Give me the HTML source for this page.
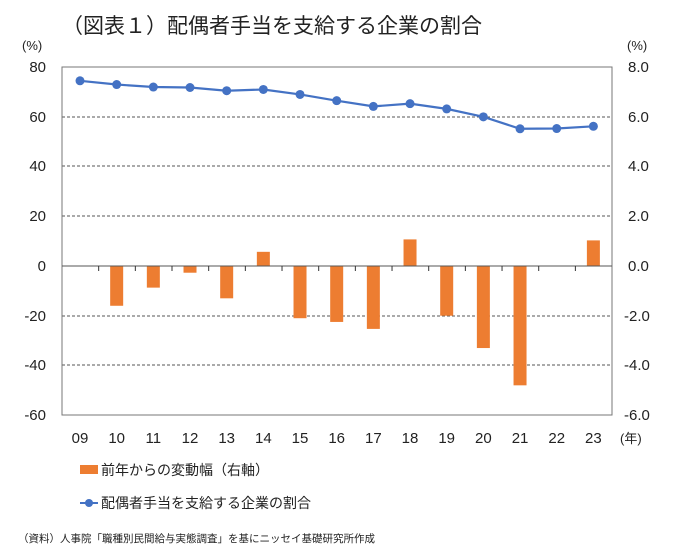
<!DOCTYPE html>
<html><head><meta charset="utf-8"><style>
body{margin:0;background:#fff;}
svg{display:block;font-family:"Liberation Sans","Noto Sans CJK JP",sans-serif;}
</style></head><body>
<svg width="684" height="558" viewBox="0 0 684 558">
<text x="62" y="33" font-size="21" fill="#222">（図表１）配偶者手当を支給する企業の割合</text>
<text x="22" y="50" font-size="13" fill="#222">(%)</text>
<text x="627" y="50" font-size="13" fill="#222">(%)</text>
<g stroke="#555" stroke-width="1" stroke-dasharray="3,2">
<line x1="62" x2="612" y1="117" y2="117"/>
<line x1="62" x2="612" y1="166" y2="166"/><line x1="62" x2="612" y1="216" y2="216"/>
<line x1="62" x2="612" y1="316" y2="316"/><line x1="62" x2="612" y1="365" y2="365"/>
</g>
<rect x="62" y="67" width="550" height="348" fill="none" stroke="#777"/>
<g font-size="15" fill="#222" text-anchor="end">
<text x="46" y="72">80</text><text x="46" y="122">60</text><text x="46" y="171">40</text><text x="46" y="221">20</text><text x="46" y="271">0</text><text x="46" y="321">-20</text><text x="46" y="370">-40</text><text x="46" y="420">-60</text>
</g>
<g font-size="15" fill="#222" text-anchor="start">
<text x="628" y="72">8.0</text><text x="628" y="122">6.0</text><text x="628" y="171">4.0</text><text x="628" y="221">2.0</text><text x="628" y="271">0.0</text><text x="624" y="321">-2.0</text><text x="624" y="370">-4.0</text><text x="624" y="420">-6.0</text>
</g>
<g fill="#ED7D31" id="bars"></g>
<line x1="62" x2="612" y1="266" y2="266" stroke="#555"/>
<g stroke="#333" id="ticks"></g>
<polyline id="ln" fill="none" stroke="#4472C4" stroke-width="2.2"/>
<g fill="#4472C4" id="dots"></g>
<g font-size="15" fill="#222" text-anchor="middle" id="xl"></g>
<text x="620" y="443" font-size="13" fill="#222">(年)</text>
<rect x="80" y="465" width="18" height="9" fill="#ED7D31"/>
<text x="101" y="475" font-size="14" fill="#222">前年からの変動幅（右軸）</text>
<line x1="80" x2="98" y1="503" y2="503" stroke="#4472C4" stroke-width="2"/>
<circle cx="89" cy="503" r="4" fill="#4472C4"/>
<text x="101" y="508" font-size="14" fill="#222">配偶者手当を支給する企業の割合</text>
<text x="18" y="542" font-size="10.5" fill="#222">（資料）人事院「職種別民間給与実態調査」を基にニッセイ基礎研究所作成</text>
</svg>
<script>
const ns="http://www.w3.org/2000/svg";
const line=[74.5,73,72,71.8,70.5,71,69,66.5,64.2,65.3,63.2,60,55.2,55.3,56.2];
const bars=[0,-16,-8.7,-2.7,-13,5.7,-21,-22.5,-25.3,10.7,-20,-33,-48,0,10.3];
const Y=v=>266-v*2.486;
const cx=i=>80+36.67*i;
let pts=[];
const labs=["09","10","11","12","13","14","15","16","17","18","19","20","21","22","23"];
for(let i=0;i<15;i++){
 const x=cx(i);
 if(bars[i]){const r=document.createElementNS(ns,"rect");const y0=Y(Math.max(0,bars[i])),y1=Y(Math.min(0,bars[i]));
 r.setAttribute("x",x-6.5);r.setAttribute("width",13);r.setAttribute("y",y0);r.setAttribute("height",y1-y0);document.getElementById("bars").appendChild(r);}
 pts.push(x+","+Y(line[i]));
 const c=document.createElementNS(ns,"circle");c.setAttribute("cx",x);c.setAttribute("cy",Y(line[i]));c.setAttribute("r",4.5);document.getElementById("dots").appendChild(c);
 const t=document.createElementNS(ns,"text");t.setAttribute("x",x);t.setAttribute("y",443);t.textContent=labs[i];document.getElementById("xl").appendChild(t);
 if(i>0){const l=document.createElementNS(ns,"line");const tx=62+36.67*i;l.setAttribute("x1",tx);l.setAttribute("x2",tx);l.setAttribute("y1",266);l.setAttribute("y2",271);document.getElementById("ticks").appendChild(l);}
}
document.getElementById("ln").setAttribute("points",pts.join(" "));
</script>
</body></html>
